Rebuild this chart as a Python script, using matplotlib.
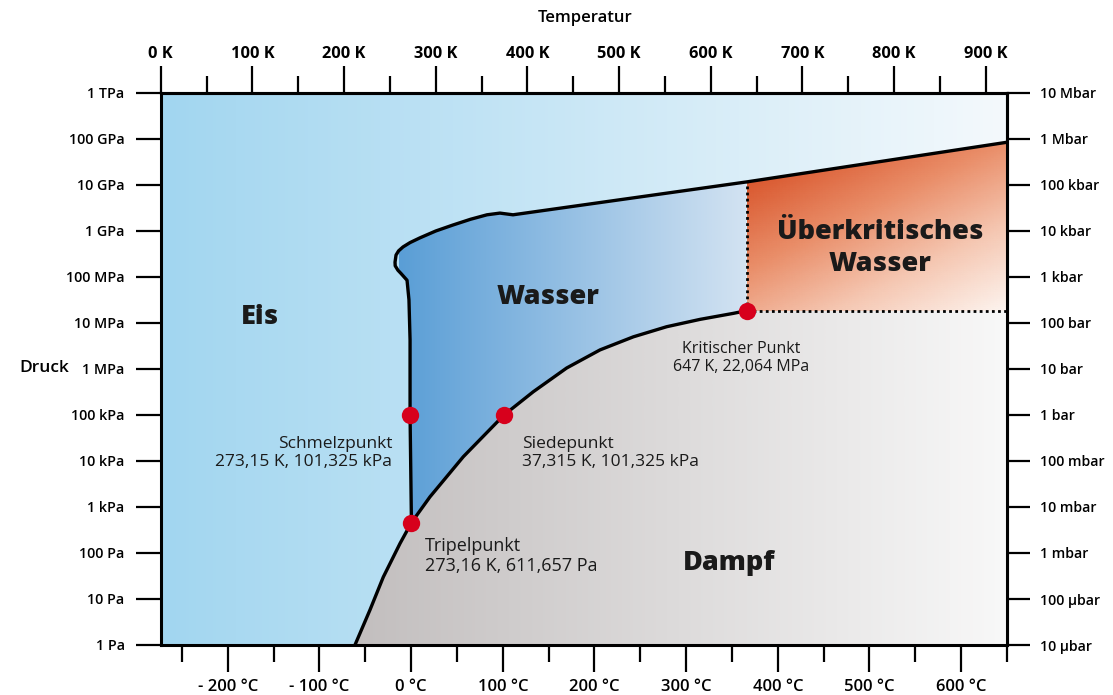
import numpy as np
import matplotlib.pyplot as plt
from matplotlib.colors import LinearSegmentedColormap
from matplotlib.patches import Polygon
from matplotlib.ticker import NullLocator, FixedLocator

plt.rcParams['font.family'] = ['Open Sans', 'DejaVu Sans']

# Achsenbeschriftung
kelvin_ticks = [0, 100, 200, 300, 400, 500, 600, 700, 800, 900]
kelvin_minor = [50, 150, 250, 350, 450, 550, 650, 750, 850]
kelvin_labels = ['0 K', '100 K', '200 K', '300 K', '400 K', '500 K', '600 K', '700 K', '800 K', '900 K']
celsius_ticks = [-200, -100, 0, 100, 200, 300, 400, 500, 600]
celsius_minor = [-250, -150, -50, 50, 150, 250, 350, 450, 550, 650]
celsius_labels = ['- 200 °C', '- 100 °C', '0 °C', '100 °C', '200 °C', '300 °C', '400 °C', '500 °C', '600 °C']
pa_ticks = [1e0, 1e1, 1e2, 1e3, 1e4, 1e5, 1e6, 1e7, 1e8, 1e9, 1e10, 1e11, 1e12]
pa_labels = ['1 Pa', '10 Pa', '100 Pa', '1 kPa', '10 kPa', '100 kPa', '1 MPa', '10 MPa',
             '100 MPa', '1 GPa', '10 GPa', '100 GPa', '1 TPa']
bar_labels = ['10 µbar', '100 µbar', '1 mbar', '10 mbar', '100 mbar', '1 bar', '10 bar', '100 bar',
              '1 kbar', '10 kbar', '100 kbar', '1 Mbar', '10 Mbar']

T_MAX = 923.15

# Phasengrenzen (T in K, p in Pa)
# Schmelzkurve ab Tripelpunkt, dann Obergrenze bis zum rechten Rand
melt_T = [273.5, 272.0, 272.0, 270.8, 268.7, 262.0, 258.8, 255.8, 255.6, 256.7, 259.5, 264.3,
          272.0, 282.8, 300.0, 318.8, 338.0, 355.9, 370.0, 384.3, 639.5, T_MAX]
melt_p = [457, 1.0e5, 4.3e6, 3.2e7, 8.5e7, 1.2e8, 1.4e8, 1.75e8, 2.1e8, 3.0e8, 3.7e8, 4.5e8,
          5.6e8, 7.1e8, 1.0e9, 1.35e9, 1.8e9, 2.25e9, 2.45e9, 2.25e9, 1.17e10, 8.5e10]
# Dampfdruckkurve Tripelpunkt -> kritischer Punkt
vap_T = [273.5, 293.7, 330.1, 374.5, 406.4, 442.8, 479.2, 515.5, 551.9, 588.4, 624.6, 639.5]
vap_p = [457, 1660, 1.24e4, 1.0e5, 3.2e5, 1.05e6, 2.6e6, 5.0e6, 8.3e6, 1.2e7, 1.62e7, 1.86e7]
# Sublimationskurve
sub_T = [211.9, 228.3, 242.8, 261.1, 273.5]
sub_p = [1.0, 5.8, 30, 162, 457]

# markierte Punkte
pts_T = [273.5, 272.0, 374.5, 639.5]
pts_p = [457, 1.0e5, 1.0e5, 1.86e7]

fig = plt.figure(figsize=(11.13, 6.95), dpi=100)
ax = fig.add_axes([160.7 / 1113, 1 - 645 / 695, (1007 - 160.7) / 1113, (645 - 93) / 695])
ax.set_yscale('log')


def clip_patch(poly):
    return Polygon(poly, closed=True, transform=ax.transData, fc='none', ec='none')


def gradient(c0, c1, extent, poly=None, z=0):
    cmap = LinearSegmentedColormap.from_list('g', [c0, c1])
    g = np.linspace(0, 1, 256)[None, :]
    im = ax.imshow(g, cmap=cmap, extent=extent, aspect='auto', origin='upper',
                   interpolation='bilinear', zorder=z)
    if poly is not None:
        im.set_clip_path(clip_patch(poly))


crit_T, crit_p = vap_T[-1], vap_p[-1]

# Eis (Hintergrund)
gradient('#a2d6f0', '#f4f9fc', [0, T_MAX, 1, 1e12], z=0)

# Wasser
water = list(zip(melt_T[:-1], melt_p[:-1])) + list(zip(vap_T[::-1], vap_p[::-1]))
gradient('#5a9ed6', '#d3e3f2', [260, crit_T, 400, 2e10], poly=water, z=1)

# Dampf
steam = list(zip(sub_T, sub_p)) + list(zip(vap_T[1:], vap_p[1:])) + [(T_MAX, crit_p), (T_MAX, 1.0)]
gradient('#c2bebe', '#f8f8f8', [205, T_MAX, 1, 2e7], poly=steam, z=1)

# überkritisch: diagonaler Verlauf
sc = [(crit_T, crit_p), (melt_T[-2], melt_p[-2]), (melt_T[-1], melt_p[-1]), (T_MAX, crit_p)]
gx = np.linspace(crit_T, T_MAX, 80)
gy = np.logspace(np.log10(crit_p), np.log10(melt_p[-1]), 80)
GX, GY = np.meshgrid(gx, gy)
gu = (GX - crit_T) / (T_MAX - crit_T)
gv = (np.log10(melt_p[-2]) - np.log10(GY)) / (np.log10(melt_p[-2]) - np.log10(crit_p))
gc = np.clip((gu + gv) / 2, 0, 1)
sc_cmap = LinearSegmentedColormap.from_list('sc', ['#d9582f', '#e98d68', '#f5c7b2', '#fdf4ef'])
qm = ax.pcolormesh(GX, GY, gc, cmap=sc_cmap, shading='gouraud', vmin=0, vmax=1, zorder=1)
qm.set_clip_path(clip_patch(sc))

# Linien
lw = 2.4
ax.plot(melt_T, melt_p, color='black', lw=lw, zorder=5, solid_joinstyle='round')
ax.plot(vap_T, vap_p, color='black', lw=lw, zorder=5)
ax.plot(sub_T, sub_p, color='black', lw=lw, zorder=5)
ax.plot([crit_T, crit_T], [crit_p, melt_p[-2]], color='black', lw=2, ls=(0, (1, 1.2)), zorder=4)
ax.plot([crit_T, T_MAX], [crit_p, crit_p], color='black', lw=2, ls=(0, (1, 1.2)), zorder=4)
ax.plot(pts_T, pts_p, 'o', color='#d7001c', ms=12.5, mec='none', zorder=6)

ax.set_xlim(0, T_MAX)
ax.set_ylim(1, 1e12)

# Achsen
for s in ax.spines.values():
    s.set_linewidth(2.2)
    s.set_zorder(10)

ax.set_xticks([c + 273.15 for c in celsius_ticks], labels=celsius_labels)
ax.xaxis.set_minor_locator(FixedLocator([c + 273.15 for c in celsius_minor]))
ax.set_yticks(pa_ticks, labels=pa_labels)
ax.yaxis.set_minor_locator(NullLocator())
ax.tick_params(axis='x', which='major', length=19.5, width=1.6, pad=5, labelsize=12)
ax.tick_params(axis='x', which='minor', length=12.5, width=1.6)
ax.tick_params(axis='y', which='major', length=18, width=1.6, pad=8, labelsize=10.3)
for t in ax.get_xticklabels():
    t.set_fontweight('semibold')
for t in ax.get_yticklabels():
    t.set_fontweight('semibold')

top = ax.secondary_xaxis('top')
top.set_xticks(kelvin_ticks, labels=kelvin_labels)
top.xaxis.set_minor_locator(FixedLocator(kelvin_minor))
top.tick_params(axis='x', which='major', length=19.5, width=1.6, pad=3, labelsize=11.8)
top.tick_params(axis='x', which='minor', length=12.5, width=1.6)
top.spines['top'].set_linewidth(2.2)
for t in top.get_xticklabels():
    t.set_fontweight('bold')

right = ax.secondary_yaxis('right')
right.set_yticks(pa_ticks, labels=bar_labels)
right.yaxis.set_minor_locator(NullLocator())
right.tick_params(axis='y', which='major', length=16.5, width=1.6, pad=7, labelsize=10.2)
right.spines['right'].set_linewidth(2.2)
for t in right.get_yticklabels():
    t.set_fontweight('semibold')

fig.text(585 / 1113, 1 - 18 / 695, 'Temperatur', ha='center', va='center', fontsize=12, fontweight='semibold')
fig.text(44 / 1113, 1 - 368 / 695, 'Druck', ha='center', va='center', fontsize=12.5, fontweight='semibold')

# Bereiche
big = dict(fontsize=19.5, fontweight='heavy', color='#1a1a1a', ha='center', va='center', zorder=7)
ax.text(108.6, 1.35e7, 'Eis', **big)
ax.text(422.6, 3.7e7, 'Wasser', **big)
ax.text(620, 60, 'Dampf', **big)
ax.text(784.6, 4.27e8, 'Überkritisches\nWasser', linespacing=1.3, **big)

small = dict(color='#1a1a1a', va='center', linespacing=1.15, zorder=7)
ax.text(252.4, 1.5e4, 'Schmelzpunkt\n273,15 K, 101,325 kPa', ha='right', multialignment='right',
        fontsize=12.5, **small)
ax.text(394, 1.5e4, 'Siedepunkt\n37,315 K, 101,325 kPa', ha='left', fontsize=12.5, **small)
ax.text(288.3, 86, 'Tripelpunkt\n273,16 K, 611,657 Pa', ha='left', fontsize=13, **small)
ax.text(633, 1.74e6, 'Kritischer Punkt\n647 K, 22,064 MPa', ha='center', multialignment='center',
        fontsize=11.5, **small)

plt.savefig('out.png', dpi=100)
